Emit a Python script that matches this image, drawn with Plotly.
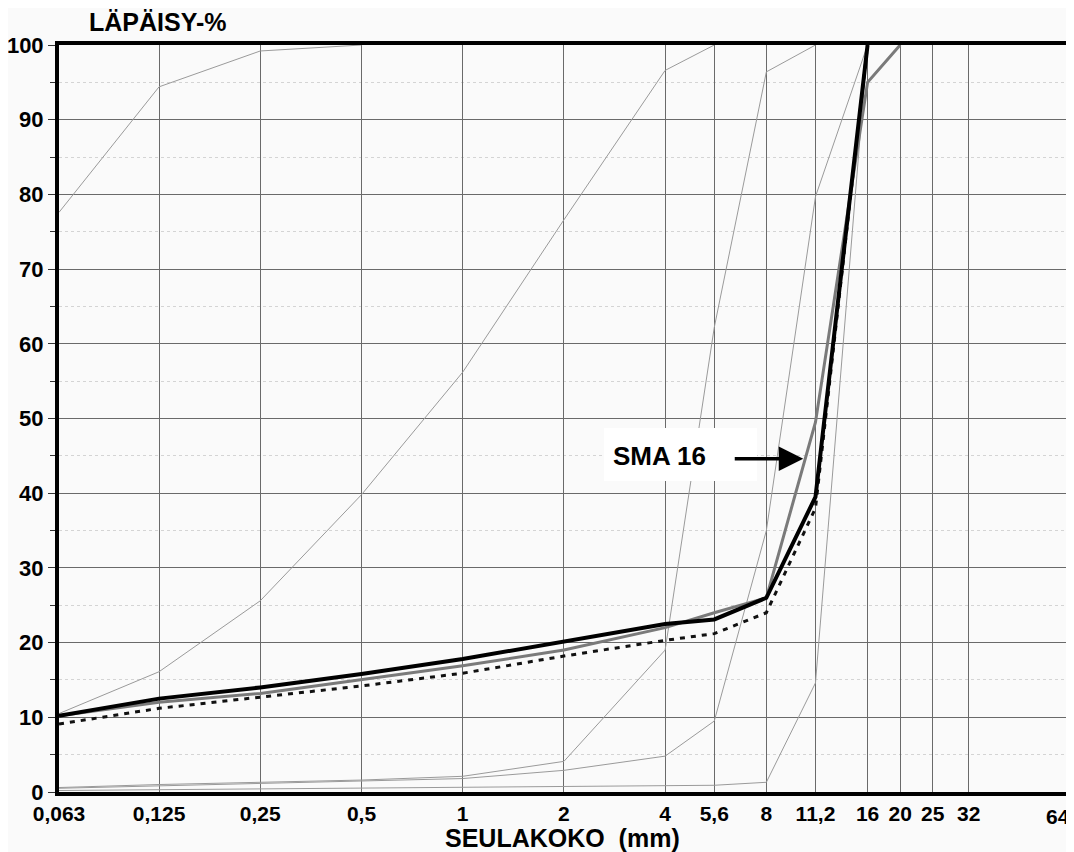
import math
import plotly.graph_objects as go

# ---- data ----
sieves = [0.063, 0.125, 0.25, 0.5, 1, 2, 4, 5.6, 8, 11.2, 16, 20, 25, 32, 64]
tick_labels = ["0,063", "0,125", "0,25", "0,5", "1", "2", "4", "5,6", "8",
               "11,2", "16", "20", "25", "32", ""]
last_label = "64"

sma_x = [0.063, 0.125, 0.25, 0.5, 1, 2, 4, 5.6, 8, 11.2, 16]
sma_y = [10.2, 12.5, 14.0, 15.8, 17.8, 20.2, 22.5, 23.1, 26.0, 39.5, 100]

gray_x = [0.063, 0.125, 0.25, 0.5, 1, 2, 4, 5.6, 8, 11.2, 16, 20]
gray_y = [10.2, 12.0, 13.2, 15.0, 16.9, 19.0, 22.0, 24.0, 26.0, 49.5, 95.0, 100]

dot_x = [0.063, 0.125, 0.25, 0.5, 1, 2, 4, 5.6, 8, 11.2, 16]
dot_y = [9.1, 11.2, 12.7, 14.2, 15.9, 18.2, 20.3, 21.2, 24.0, 38.0, 100]

thin_a_x = [0.063, 0.125, 0.25, 0.5]
thin_a_y = [77.6, 94.4, 99.2, 100]

thin_b_x = [0.063, 0.125, 0.25, 0.5, 1, 2, 4, 5.6]
thin_b_y = [10.5, 16.1, 25.6, 39.8, 56.2, 76.6, 96.6, 100]

thin_c_x = [0.063, 0.125, 0.25, 0.5, 1, 2, 4, 5.6, 8, 11.2]
thin_c_y = [0.6, 1.0, 1.3, 1.6, 2.1, 4.1, 19.0, 62.2, 96.4, 100]

thin_d_x = [0.063, 0.125, 0.25, 0.5, 1, 2, 4, 5.6, 8, 11.2, 16]
thin_d_y = [0.5, 0.8, 1.1, 1.4, 1.8, 2.9, 4.8, 9.5, 35.0, 79.7, 100]

thin_e_x = [0.063, 0.125, 0.25, 0.5, 1, 2, 4, 5.6, 8, 11.2, 16]
thin_e_y = [0.2, 0.3, 0.4, 0.5, 0.6, 0.7, 0.8, 0.9, 1.3, 14.6, 100]

y_ticks = [0, 10, 20, 30, 40, 50, 60, 70, 80, 90, 100]

FONT = "Liberation Sans, Arial, sans-serif"

fig = go.Figure()

for xs, ys in [(thin_a_x, thin_a_y), (thin_b_x, thin_b_y), (thin_c_x, thin_c_y),
               (thin_d_x, thin_d_y), (thin_e_x, thin_e_y)]:
    fig.add_trace(go.Scatter(x=xs, y=ys, mode="lines",
                             line=dict(color="#9a9a9a", width=1),
                             showlegend=False, hoverinfo="skip"))

fig.add_trace(go.Scatter(x=dot_x, y=dot_y, mode="lines",
                         line=dict(color="#111111", width=3, dash="5px,6px"),
                         showlegend=False))
fig.add_trace(go.Scatter(x=gray_x, y=gray_y, mode="lines",
                         line=dict(color="#7a7a7a", width=3),
                         showlegend=False))
fig.add_trace(go.Scatter(x=sma_x, y=sma_y, mode="lines",
                         line=dict(color="#000000", width=4),
                         showlegend=False))

fig.update_xaxes(
    type="log", automargin=False,
    range=[math.log10(0.063), math.log10(64)],
    tickvals=sieves, ticktext=tick_labels,
    showgrid=True, gridcolor="#6a6a6a", gridwidth=1,
    ticks="", showline=True, linecolor="black", linewidth=4, mirror=True,
    tickfont=dict(family=FONT, size=21, color="black", weight="bold"),
    zeroline=False,
)
fig.update_yaxes(
    range=[0, 100], automargin=False,
    tickvals=y_ticks,
    showgrid=True, gridcolor="#6a6a6a", gridwidth=1,
    ticks="outside", ticklen=7, tickcolor="#333", tickwidth=1,
    minor=dict(dtick=5, tick0=5, ticks="outside", ticklen=5, tickcolor="#333",
               showgrid=True, gridcolor="#d4d4d4", griddash="dot", gridwidth=1),
    showline=True, linecolor="black", linewidth=4, mirror=True,
    tickfont=dict(family=FONT, size=22, color="black", weight="bold"),
    zeroline=False,
)

# page offset (body margin) compensation
OFF = 8
W, H = 1066, 844
L, T = 59 - OFF, 45 - OFF
R = W - (1070 - OFF)
B = H - (792 - OFF)

# reference-pixel -> paper coordinate helpers (plot area spans px 59..1070, 45..792)
def px_x(p):
    return (p - 59) / (1070 - 59)

def px_y(p):
    return (792 - p) / (792 - 45)

fig.add_shape(type="rect", xref="paper", yref="paper",
              x0=px_x(604), x1=px_x(757), y0=px_y(481), y1=px_y(428),
              fillcolor="white", line=dict(width=0), layer="above")

fig.add_annotation(xref="paper", yref="paper", x=px_x(611), y=px_y(456),
                   xanchor="left", yanchor="middle", showarrow=False,
                   text="SMA 16",
                   font=dict(family=FONT, size=26, color="black", weight="bold"))
fig.add_annotation(x=math.log10(10.3), y=44.6, xref="x", yref="y",
                   ax=-70, ay=0, text="", showarrow=True,
                   arrowhead=2, arrowsize=1.4, arrowwidth=3.5, arrowcolor="black")

fig.add_annotation(xref="paper", yref="paper", x=px_x(1058), y=px_y(816),
                   xanchor="center", yanchor="middle", showarrow=False,
                   text=last_label,
                   font=dict(family=FONT, size=21, color="black", weight="bold"))

fig.add_annotation(xref="paper", yref="paper", x=px_x(87), y=px_y(22),
                   xanchor="left", yanchor="middle", showarrow=False,
                   text="LÄPÄISY-%",
                   font=dict(family=FONT, size=25, color="black", weight="bold"))
fig.add_annotation(xref="paper", yref="paper", x=px_x(562), y=px_y(838),
                   xanchor="center", yanchor="middle", showarrow=False,
                   text="SEULAKOKO&nbsp; (mm)",
                   font=dict(family=FONT, size=25, color="black", weight="bold"))

fig.update_layout(
    width=W, height=H,
    margin=dict(l=L, r=R, t=T, b=B, autoexpand=False),
    paper_bgcolor="#fafafa", plot_bgcolor="#fafafa",
    showlegend=False,
)

fig.write_html("out.html")
